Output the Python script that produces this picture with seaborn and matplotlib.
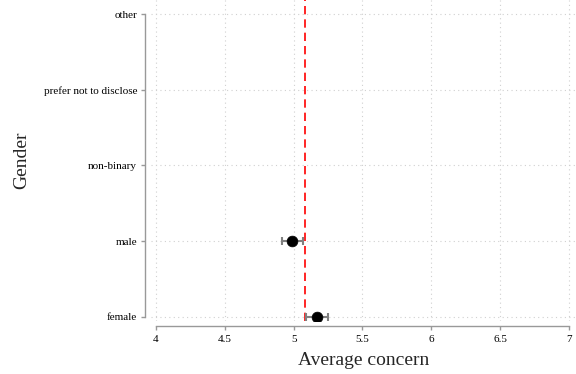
import matplotlib
matplotlib.use("Agg")
import matplotlib.pyplot as plt
import seaborn as sns
import pandas as pd

categories = ["female", "male", "non-binary", "prefer not to disclose", "other"]
means = [5.17, 4.99, None, None, None]
err_low = [0.08, 0.075, None, None, None]
err_high = [0.08, 0.08, None, None, None]
overall_mean = 5.085
xticks = [4, 4.5, 5, 5.5, 6, 6.5, 7]
xticklabels = ["4", "4.5", "5", "5.5", "6", "6.5", "7"]

sns.set_style("white")
plt.rcParams["font.family"] = ["Liberation Serif", "DejaVu Serif"]

fig = plt.figure(figsize=(5.76, 3.74), dpi=100)
ax = fig.add_axes([0.262, 0.142, 0.738, 0.858])

df = pd.DataFrame({"gender": categories, "pos": range(len(categories)),
                   "mean": means, "lo": err_low, "hi": err_high}).dropna()

ax.errorbar(df["mean"], df["pos"], xerr=[df["lo"], df["hi"]], fmt="none",
            ecolor="#808080", elinewidth=1.5, capsize=3, capthick=1.5, zorder=2)
sns.scatterplot(data=df, x="mean", y="pos", color="black", s=60, ax=ax,
                zorder=3, edgecolor="black", linewidth=0.5, legend=False)

ax.axvline(overall_mean, color="red", linestyle=(0, (5, 3)), linewidth=1.2, zorder=1)

ax.set_yticks(range(len(categories)))
ax.set_yticklabels(categories)
ax.set_xticks(xticks)
ax.set_xticklabels(xticklabels)
ax.set_xlim(3.964, 7.05)
ax.set_ylim(-0.053, 4.185)

ax.grid(True, color="#d0d0d0", linestyle=(0, (1, 3)), linewidth=0.8)
ax.set_axisbelow(True)

for s in ["top", "right"]:
    ax.spines[s].set_visible(False)
ax.spines["left"].set_position(("outward", 4))
ax.spines["bottom"].set_position(("outward", 4))
ax.spines["left"].set_bounds(0, 4)
ax.spines["bottom"].set_bounds(4, 7)
for s in ["left", "bottom"]:
    ax.spines[s].set_color("#999999")
    ax.spines[s].set_linewidth(1.0)
ax.tick_params(axis="both", which="both", length=3, width=1, color="#999999",
               labelsize=8, labelcolor="black", direction="out", left=True, bottom=True,
               pad=3)

ax.set_xlabel("Average concern", fontsize=14, labelpad=6)
ax.set_ylabel("Gender", fontsize=14)
ax.yaxis.set_label_coords(-0.285, 0.5)

fig.savefig("out.png", dpi=100)
